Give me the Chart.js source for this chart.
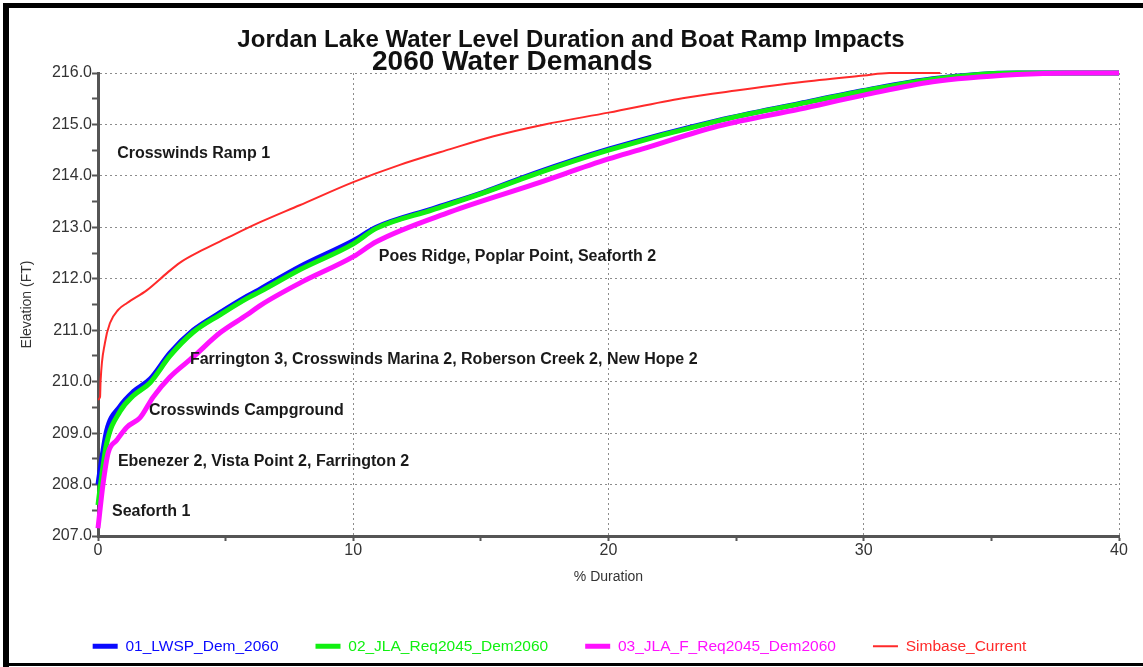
<!DOCTYPE html>
<html>
<head>
<meta charset="utf-8">
<script src="https://cdn.jsdelivr.net/npm/chart.js@4.4.0/dist/chart.umd.min.js"></script>
<style>
  html, body { margin: 0; padding: 0; background: #fff; }
  #wrap { width: 1143px; height: 667px; position: relative; }
</style>
</head>
<body>
<div id="wrap"><canvas id="chart"></canvas></div>
<script>
// series: % duration (x) vs elevation in ft (y)
const seriesNames = ['01_LWSP_Dem_2060', '02_JLA_Req2045_Dem2060', '03_JLA_F_Req2045_Dem2060', 'Simbase_Current'];

const lwspDur  = [0, 0.1, 0.34, 0.86, 1.37, 2.04, 2.82, 3.73, 4.78, 5.84, 6.35, 7.92, 10, 10.9, 13.1, 15.1, 17.1, 20, 24.3, 27.5, 30, 32.7, 36, 40];
const lwspElev = [208.0, 208.35, 209.05, 209.52, 209.8, 210.05, 210.56, 211.0, 211.34, 211.66, 211.8, 212.24, 212.74, 213.0, 213.36, 213.68, 214.05, 214.52, 215.08, 215.41, 215.66, 215.89, 216.0, 216.0];

const jlaDur  = [0, 0.1, 0.34, 0.86, 1.37, 2.04, 2.82, 3.73, 4.78, 5.84, 6.35, 7.92, 10, 10.9, 13.1, 15.1, 17.1, 20, 24.3, 27.5, 30, 32.7, 36, 40];
const jlaElev = [207.6, 208.0, 208.8, 209.42, 209.72, 209.98, 210.5, 210.96, 211.3, 211.62, 211.75, 212.18, 212.68, 212.98, 213.34, 213.67, 214.03, 214.5, 215.07, 215.4, 215.65, 215.88, 216.0, 216.0];

const jlaFDur  = [0, 0.2, 0.4, 0.73, 1.14, 1.65, 2.16, 2.82, 3.73, 4.78, 5.84, 6.35, 7.92, 10, 10.9, 13.8, 17.1, 20, 21.3, 24.3, 27.5, 30, 32.7, 36, 38, 40];
const jlaFElev = [207.15, 208.02, 208.62, 208.86, 209.12, 209.3, 209.7, 210.09, 210.48, 210.95, 211.3, 211.48, 211.92, 212.43, 212.72, 213.3, 213.84, 214.33, 214.52, 214.97, 215.3, 215.57, 215.83, 215.97, 216.0, 216.0];

const simDur  = [0, 0.08, 0.1, 0.27, 0.47, 0.8, 1.14, 1.92, 2.7, 3.2, 4.1, 5, 6.35, 7.9, 10, 11.8, 13.8, 15.5, 17.5, 20, 22.9, 25, 27.5, 30, 31, 33];
const simElev = [209.65, 209.7, 210.0, 210.75, 211.14, 211.4, 211.53, 211.78, 212.11, 212.31, 212.56, 212.78, 213.1, 213.43, 213.88, 214.21, 214.52, 214.77, 215.0, 215.23, 215.51, 215.66, 215.82, 215.95, 216.0, 216.0];

// boat ramp labels and the elevation/duration they sit at
const rampLabels = ['Crosswinds Ramp 1', 'Poes Ridge, Poplar Point, Seaforth 2',
  'Farrington 3, Crosswinds Marina 2, Roberson Creek 2, New Hope 2', 'Crosswinds Campground',
  'Ebenezer 2, Vista Point 2, Farrington 2', 'Seaforth 1'];
const rampDur  = [0.75, 11.0, 3.6, 2.0, 0.78, 0.55];
const rampElev = [214.44, 212.43, 210.43, 209.44, 208.44, 207.47];

const FONT = "'Liberation Sans', Arial, sans-serif";

const pts = (xs, ys) => xs.map((x, i) => ({ x: x, y: ys[i] }));

const isMajor = (v, step) => Math.abs(v / step - Math.round(v / step)) < 1e-6;

const titlePlugin = {
  id: 'titles',
  afterDraw(chart) {
    const ctx = chart.ctx;
    ctx.save();
    ctx.fillStyle = '#111';
    ctx.textBaseline = 'middle';
    ctx.font = 'bold 24px ' + FONT;
    ctx.textAlign = 'center';
    ctx.fillText('Jordan Lake Water Level Duration and Boat Ramp Impacts', 571, 40);
    ctx.font = 'bold 28px ' + FONT;
    ctx.textAlign = 'left';
    ctx.fillText('2060 Water Demands', 372, 62);
    // page frame
    ctx.fillStyle = '#000';
    ctx.fillRect(3, 3, 6, 664);
    ctx.fillRect(3, 3, 1140, 5);
    ctx.fillRect(3, 663, 1140, 3);
    ctx.restore();
  }
};

const rampPlugin = {
  id: 'ramps',
  afterDatasetsDraw(chart) {
    const { ctx, scales: { x, y } } = chart;
    ctx.save();
    ctx.fillStyle = '#1a1a1a';
    ctx.font = 'bold 16px ' + FONT;
    ctx.textAlign = 'left';
    ctx.textBaseline = 'middle';
    rampLabels.forEach((t, i) => {
      ctx.fillText(t, x.getPixelForValue(rampDur[i]), y.getPixelForValue(rampElev[i]));
    });
    ctx.restore();
  }
};

const axisGrid = (step, len) => ({
  color: c => (c.tick && isMajor(c.tick.value, step)) ? '#8c8c8c' : 'rgba(0,0,0,0)',
  lineWidth: 1,
  tickColor: '#555',
  tickLength: len,
  tickWidth: 2
});

new Chart(document.getElementById('chart'), {
  type: 'line',
  data: {
    datasets: [
      { label: seriesNames[0], data: pts(lwspDur, lwspElev), borderColor: '#0a0aff', borderWidth: 5, order: 3 },
      { label: seriesNames[1], data: pts(jlaDur, jlaElev), borderColor: '#11f011', borderWidth: 5, order: 2 },
      { label: seriesNames[2], data: pts(jlaFDur, jlaFElev), borderColor: '#ff11ff', borderWidth: 5, order: 1 },
      { label: seriesNames[3], data: pts(simDur, simElev), borderColor: '#ff2a2a', borderWidth: 2, order: 0 }
    ]
  },
  options: {
    responsive: true,
    maintainAspectRatio: false,
    animation: false,
    layout: { padding: { top: 73, right: 24, bottom: 3, left: 0 } },
    elements: { point: { radius: 0 }, line: { cubicInterpolationMode: 'monotone', fill: false } },
    datasets: { line: { clip: 6 } },
    plugins: {
      title: { display: false },
      tooltip: { enabled: false },
      legend: {
        position: 'bottom',
        labels: {
          font: { size: 15.5, family: FONT },
          padding: 37,
          usePointStyle: true,
          pointStyleWidth: 25,
          sort: (a, b) => a.datasetIndex - b.datasetIndex,
          generateLabels: chart => chart.data.datasets.map((ds, i) => ({
            text: ds.label,
            datasetIndex: i,
            strokeStyle: ds.borderColor,
            fillStyle: ds.borderColor,
            fontColor: ds.borderColor,
            lineWidth: ds.borderWidth,
            pointStyle: 'line',
            hidden: false
          }))
        }
      }
    },
    scales: {
      x: {
        type: 'linear',
        min: 0,
        max: 40,
        // keep the plot bottom at the same place whatever the legend height is
        afterFit: s => { s.height = 667 - 3 - s.chart.legend.height - 536; },
        ticks: {
          stepSize: 5,
          autoSkip: false,
          maxRotation: 0,
          padding: 0,
          color: '#333',
          font: { size: 16, family: FONT },
          callback: v => isMajor(v, 10) ? String(v) : ''
        },
        grid: axisGrid(10, 5),
        border: { color: '#555', width: 3, dash: [2, 3] },
        title: { display: true, text: '% Duration', color: '#333', font: { size: 14, family: FONT }, padding: { top: 0, bottom: 16 } }
      },
      y: {
        type: 'linear',
        min: 207,
        max: 216,
        afterFit: s => { s.width = 98; },
        ticks: {
          stepSize: 0.5,
          autoSkip: false,
          padding: 0,
          color: '#333',
          font: { size: 16, family: FONT },
          callback: v => isMajor(v, 1) ? v.toFixed(1) : ''
        },
        grid: axisGrid(1, 6),
        border: { color: '#555', width: 3, dash: [2, 3] },
        title: { display: true, text: 'Elevation (FT)', color: '#333', font: { size: 14, family: FONT }, padding: { top: 19, bottom: 0 } }
      }
    }
  },
  plugins: [rampPlugin, titlePlugin]
});
</script>
</body>
</html>
